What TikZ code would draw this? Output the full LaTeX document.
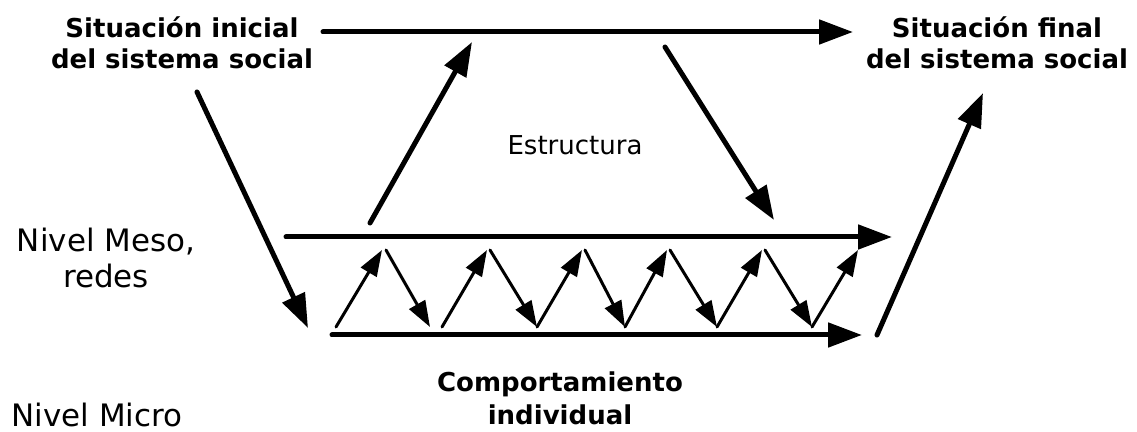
\documentclass[tikz,border=0pt]{standalone}
\usepackage{fontspec}
\setmainfont{DejaVu Sans}
\usetikzlibrary{arrows.meta}

\begin{document}
\begin{tikzpicture}
        [
        x=0.02cm, y=-0.02cm,
            situacion/.style={
                align=center,
                font=\fontsize{14.8}{17.6}\selectfont\bfseries
            },
            nivel/.style={
                align=center,
                font=\fontsize{17.6}{21}\selectfont
            },
            flechaGruesa/.style={
                -{Triangle[length=0.68cm,width=0.48cm]},
                line width=0.1cm,
                line cap=round
            },
            flechaFina/.style={
                -{Triangle[length=0.52cm,width=0.36cm]},
                line width=0.06cm,
                line cap=round
            }
        ]
        \useasboundingbox (0,0) rectangle (1137,432);

        \node(inicial) [situacion] at (182,43) {Situación inicial\\del sistema social};
        \node(final) [situacion] at (997,43) {Situación final\\del sistema social};
        \node(estructura) [font=\fontsize{14.8}{17.6}\selectfont] at (575,145) {Estructura};
        \node(meso) [nivel] at (106,258) {Nivel Meso,\\redes};
        \node(micro) [nivel, anchor=base] at (97,427) {Nivel Micro};
        \node(comportamiento) [situacion, font=\fontsize{14.8}{18.8}\selectfont\bfseries] at (560,398) {Comportamiento\\individual};

        % extremos de las flechas
        \coordinate (arribaIni) at (323,32);
        \coordinate (arribaFin) at (853,32);
        \coordinate (bajadaIni) at (197,92);
        \coordinate (bajadaFin) at (308,328);
        \coordinate (subeIni) at (370,223);
        \coordinate (subeFin) at (472,42);
        \coordinate (baja2Ini) at (665,47);
        \coordinate (baja2Fin) at (774,220);
        \coordinate (mesoIni) at (286,237);
        \coordinate (mesoFin) at (892,237);
        \coordinate (microIni) at (332,335);
        \coordinate (microFin) at (862,335);
        \coordinate (salidaIni) at (877,335);
        \coordinate (salidaFin) at (983,93);

        \draw[flechaGruesa] (arribaIni)--(arribaFin);
        \draw[flechaGruesa] (bajadaIni)--(bajadaFin);
        \draw[flechaGruesa] (subeIni)--(subeFin);
        \draw[flechaGruesa] (baja2Ini)--(baja2Fin);
        \draw[flechaGruesa] (mesoIni)--(mesoFin);
        \draw[flechaGruesa] (microIni)--(microFin);
        \draw[flechaGruesa] (salidaIni)--(salidaFin);

        % zigzag entre micro y meso
        \foreach \abajo/\arriba [count=\i] in {336/382, 442/487, 537/582, 625/667, 717/762, 812/858}{
            \coordinate (zigBajo\i) at (\abajo,327);
            \coordinate (zigAlto\i) at (\arriba,250);
            \draw[flechaFina] (zigBajo\i)--(zigAlto\i);
        }
        \foreach \desde/\hasta [count=\i] in {386/430, 490/537, 585/625, 670/717, 765/812}{
            \coordinate (zigDesde\i) at (\desde,250);
            \coordinate (zigHasta\i) at (\hasta,327);
            \draw[flechaFina] (zigDesde\i)--(zigHasta\i);
        }
    \end{tikzpicture}
\end{document}
